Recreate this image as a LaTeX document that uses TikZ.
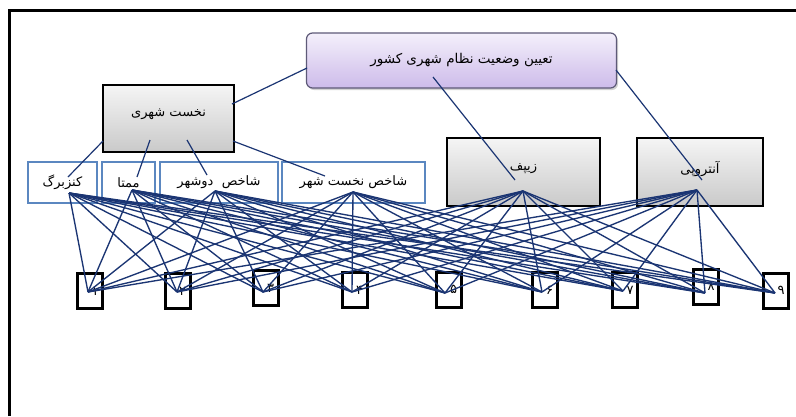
\documentclass[tikz,border=0pt]{standalone}
\usepackage{fontspec}
\newfontfamily\fa[Script=Arabic]{DejaVu Sans}
\TeXXeTstate=1
\usetikzlibrary{shadows}
\definecolor{navy}{HTML}{1B3573}
\definecolor{boxblue}{HTML}{5B87C0}
\definecolor{lilactop}{HTML}{F4F0FB}
\definecolor{lilacbot}{HTML}{CDBBEA}
\definecolor{lilacedge}{HTML}{5E5A78}
\newcommand{\fatxt}[1]{{\fa\beginR #1\endR}}
\tikzset{
  frameline/.style={line width=3pt, black},
  topbox/.style={draw=lilacedge, line width=1.2pt, rounded corners=6pt,
    top color=lilactop, bottom color=lilacbot, minimum width=310pt, minimum height=55pt,
    drop shadow={shadow xshift=1.5pt, shadow yshift=-2pt, opacity=0.35}, font=\fa\fontsize{13.5}{15}\selectfont},
  graybox/.style={draw=black, line width=1.1pt, top color=gray!8, bottom color=gray!42,
    font=\fa\fontsize{13}{15}\selectfont},
  bluebox/.style={draw=boxblue, line width=2.3pt, fill=white, minimum height=41pt,
    inner sep=0pt, font=\fa\fontsize{13}{15}\selectfont},
  numbox/.style={draw=black, line width=3pt, fill=white, minimum width=25pt, minimum height=35pt,
    inner sep=0pt, text width=17pt, align=right, font=\fa\fontsize{13}{14}\selectfont},
  link/.style={navy, line width=1.35pt},
  toplink/.style={navy, line width=1.2pt},
}
\begin{document}
\begin{tikzpicture}[x=1pt,y=-1pt]
\useasboundingbox (0,0) rectangle (796,416);
\fill[white] (0,0) rectangle (796,416);
% frame
\coordinate (fA) at (9,416);
\coordinate (fB) at (9,10);
\coordinate (fC) at (796,10);
\draw[frameline] (fA) -- (fB) -- (fC);

% top box
\node[topbox] (top) at (461.5,60.5) {\fatxt{تعیین وضعیت نظام شهری کشور}};
% gray boxes
\node[graybox, minimum width=131pt, minimum height=67pt] (nk) at (168.5,118.5) {\raisebox{12pt}{\fatxt{نخست شهری}}};
\node[graybox, minimum width=153pt, minimum height=68pt] (z) at (523.5,172) {\raisebox{9pt}{\fatxt{زیپف}}};
\node[graybox, minimum width=126pt, minimum height=68pt] (a) at (700,172) {\raisebox{9pt}{\fatxt{آنتروپی}}};
% blue boxes
\node[bluebox, minimum width=69pt] (k) at (62.5,182.5) {\fatxt{کنزبرگ}};
\node[bluebox, minimum width=53pt] (m) at (128.5,182.5) {\fatxt{ممتا}};
\node[bluebox, minimum width=118pt] (d) at (219,182.5) {\fatxt{شاخص\ \ دوشهر}};
\node[bluebox, minimum width=143pt] (n) at (353.5,182.5) {\fatxt{شاخص نخست شهر}};
% number boxes
\node[numbox] (b1) at (90,291) {\fatxt{۱}};
\node[numbox] (b2) at (177.5,291) {\fatxt{۲}};
\node[numbox] (b3) at (265.5,288) {\fatxt{۳}};
\node[numbox] (b4) at (354.5,290) {\fatxt{۴}};
\node[numbox] (b5) at (448.5,289.5) {\fatxt{۵}};
\node[numbox] (b6) at (544.5,290) {\fatxt{۶}};
\node[numbox] (b7) at (625,290) {\fatxt{۷}};
\node[numbox] (b8) at (706,286.5) {\fatxt{۸}};
\node[numbox] (b9) at (776,290.5) {\fatxt{۹}};

% ports
\coordinate (top-l) at (307,68);
\coordinate (top-z) at (433,77);
\coordinate (top-a) at (616,70);
\coordinate (nk-in) at (232,104);
\coordinate (z-in) at (515,180);
\coordinate (a-in) at (702,180);
\coordinate (nk-k) at (103,141);
\coordinate (nk-m) at (150,140);
\coordinate (nk-d) at (187,140);
\coordinate (nk-n) at (233,141);
\coordinate (k-in) at (68,177);
\coordinate (m-in) at (137,177);
\coordinate (d-in) at (207,175);
\coordinate (n-in) at (325,176);
\coordinate (k-o) at (69,193);
\coordinate (m-o) at (132,190);
\coordinate (d-o) at (215,191);
\coordinate (n-o) at (353,192);
\coordinate (z-o) at (523,191);
\coordinate (a-o) at (697,190);
\coordinate (b1-i) at (88,292);
\coordinate (b2-i) at (177,292);
\coordinate (b3-i) at (263,292);
\coordinate (b4-i) at (352,292);
\coordinate (b5-i) at (445,293);
\coordinate (b6-i) at (542,292);
\coordinate (b7-i) at (623,291);
\coordinate (b8-i) at (705,293);
\coordinate (b9-i) at (775,293);

% links from top box
\draw[toplink] (top-l) -- (nk-in);
\draw[toplink] (top-z) -- (z-in);
\draw[toplink] (top-a) -- (a-in);
% links from primacy box
\draw[toplink] (nk-k) -- (k-in);
\draw[toplink] (nk-m) -- (m-in);
\draw[toplink] (nk-d) -- (d-in);
\draw[toplink] (nk-n) -- (n-in);
% indicator to number links
\foreach \s in {k,m,d,n,z,a}{
  \foreach \t in {1,...,9}{
    \draw[link] (\s-o) -- (b\t-i);
  }
}
\end{tikzpicture}
\end{document}
